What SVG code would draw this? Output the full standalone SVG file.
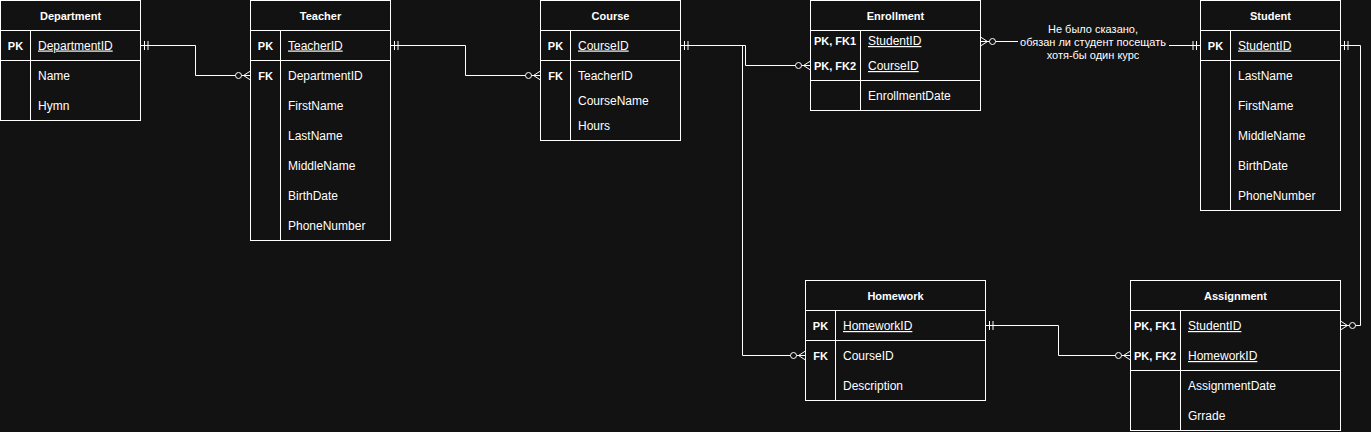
<svg xmlns="http://www.w3.org/2000/svg" width="1371" height="432" viewBox="0 0 1371 432">
<style>
.bg{fill:#121212}
.box{fill:#121212;stroke:#ffffff;stroke-width:1}
.ln{stroke:#ffffff;stroke-width:1;fill:none}
.t{font-family:"Liberation Sans",Arial,sans-serif;fill:#ffffff}
.h{font-size:11px;font-weight:bold;text-anchor:middle}
.k{font-size:11px;font-weight:bold;text-anchor:middle}
.f{font-size:12px}
.u{text-decoration:underline}
.lbl{font-size:11px;text-anchor:middle}
.con{stroke:#ffffff;stroke-width:1;fill:none}
.circ{stroke:#ffffff;stroke-width:1;fill:#121212}
</style>
<rect class="bg" x="0" y="0" width="1371" height="432"/>

<g id="Department">
<rect class="box" x="0.5" y="0.5" width="140" height="120"/>
<path class="ln" d="M0.5,30.5H140.5M0.5,60.5H140.5M30.5,30.5V120.5"/>
<text class="t h" x="70.5" y="20">Department</text>
<text class="t k" x="15.5" y="49.5">PK</text>
<text class="t f u" x="38" y="49.5">DepartmentID</text>
<text class="t f" x="38" y="79.5">Name</text>
<text class="t f" x="38" y="109.5">Hymn</text>
</g>

<g id="Teacher">
<rect class="box" x="250.5" y="0.5" width="140" height="240"/>
<path class="ln" d="M250.5,30.5H390.5M250.5,60.5H390.5M280.5,30.5V240.5"/>
<text class="t h" x="320.5" y="20">Teacher</text>
<text class="t k" x="265.5" y="49.5">PK</text>
<text class="t f u" x="288" y="49.5">TeacherID</text>
<text class="t k" x="265.5" y="79.5">FK</text>
<text class="t f" x="288" y="79.5">DepartmentID</text>
<text class="t f" x="288" y="109.5">FirstName</text>
<text class="t f" x="288" y="139.5">LastName</text>
<text class="t f" x="288" y="169.5">MiddleName</text>
<text class="t f" x="288" y="199.5">BirthDate</text>
<text class="t f" x="288" y="229.5">PhoneNumber</text>
</g>

<g id="Course">
<rect class="box" x="540.5" y="0.5" width="140" height="140"/>
<path class="ln" d="M540.5,30.5H680.5M540.5,60.5H680.5M570.5,30.5V140.5"/>
<text class="t h" x="610.5" y="20">Course</text>
<text class="t k" x="555.5" y="49.5">PK</text>
<text class="t f u" x="578" y="49.5">CourseID</text>
<text class="t k" x="555.5" y="79.5">FK</text>
<text class="t f" x="578" y="79.5">TeacherID</text>
<text class="t f" x="578" y="104.5">CourseName</text>
<text class="t f" x="578" y="129.5">Hours</text>
</g>

<g id="Enrollment">
<rect class="box" x="810.5" y="0.5" width="170" height="110"/>
<path class="ln" d="M810.5,30.5H980.5M810.5,80.5H980.5M860.5,30.5V110.5"/>
<text class="t h" x="895.5" y="20">Enrollment</text>
<text class="t k" x="835" y="45">PK, FK1</text>
<text class="t f u" x="868" y="45">StudentID</text>
<text class="t k" x="835" y="70">PK, FK2</text>
<text class="t f u" x="868" y="70">CourseID</text>
<text class="t f" x="868" y="100">EnrollmentDate</text>
</g>

<g id="Student">
<rect class="box" x="1200.5" y="0.5" width="140" height="210"/>
<path class="ln" d="M1200.5,30.5H1340.5M1200.5,60.5H1340.5M1230.5,30.5V210.5"/>
<text class="t h" x="1270.5" y="20">Student</text>
<text class="t k" x="1215.5" y="49.5">PK</text>
<text class="t f u" x="1238" y="49.5">StudentID</text>
<text class="t f" x="1238" y="80">LastName</text>
<text class="t f" x="1238" y="110">FirstName</text>
<text class="t f" x="1238" y="140">MiddleName</text>
<text class="t f" x="1238" y="170">BirthDate</text>
<text class="t f" x="1238" y="200">PhoneNumber</text>
</g>

<g id="Homework">
<rect class="box" x="805.5" y="280.5" width="180" height="120"/>
<path class="ln" d="M805.5,310.5H985.5M805.5,340.5H985.5M835.5,310.5V400.5"/>
<text class="t h" x="895.5" y="300">Homework</text>
<text class="t k" x="820.5" y="330">PK</text>
<text class="t f u" x="843" y="330">HomeworkID</text>
<text class="t k" x="820.5" y="360">FK</text>
<text class="t f" x="843" y="360">CourseID</text>
<text class="t f" x="843" y="390">Description</text>
</g>

<g id="Assignment">
<rect class="box" x="1130.5" y="280.5" width="210" height="150"/>
<path class="ln" d="M1130.5,310.5H1340.5M1130.5,370.5H1340.5M1180.5,310.5V430.5"/>
<text class="t h" x="1235.5" y="300">Assignment</text>
<text class="t k" x="1155" y="330">PK, FK1</text>
<text class="t f u" x="1188" y="330">StudentID</text>
<text class="t k" x="1155" y="360">PK, FK2</text>
<text class="t f u" x="1188" y="360">HomeworkID</text>
<text class="t f" x="1188" y="390">AssignmentDate</text>
<text class="t f" x="1188" y="420">Grrade</text>
</g>

<g id="connectors">
<!-- Department -> Teacher -->
<path class="con" d="M140.5,45.5H195.5V75.5H250.5"/>
<path class="con" d="M144.5,41V50M148,41V50"/>
<path class="con" d="M243.5,75.5L250.5,71M243.5,75.5L250.5,80"/>
<circle class="circ" cx="238.5" cy="75.5" r="3"/>
<!-- Teacher -> Course -->
<path class="con" d="M390.5,45.5H465.5V75.5H540.5"/>
<path class="con" d="M394.5,41V50M398,41V50"/>
<path class="con" d="M533.5,75.5L540.5,71M533.5,75.5L540.5,80"/>
<circle class="circ" cx="528.5" cy="75.5" r="3"/>
<!-- Course -> Enrollment -->
<path class="con" d="M680.5,45.5H745.5V65.5H810.5"/>
<path class="con" d="M684.5,41V50M688,41V50"/>
<path class="con" d="M803.5,65.5L810.5,61M803.5,65.5L810.5,70"/>
<circle class="circ" cx="798.5" cy="65.5" r="3"/>
<!-- Course -> Homework -->
<path class="con" d="M680.5,45.5H742.5V355.5H805.5"/>
<path class="con" d="M798.5,355.5L805.5,351M798.5,355.5L805.5,360"/>
<circle class="circ" cx="793.5" cy="355.5" r="3"/>
<!-- Enrollment -> Student -->
<path class="con" d="M980.5,41.5H1093V45.5H1200.5"/>
<path class="con" d="M987.5,41.5L980.5,37M987.5,41.5L980.5,46"/>
<circle class="circ" cx="992.5" cy="41.5" r="3"/>
<path class="con" d="M1193,41V50M1196.5,41V50"/>
<!-- Student -> Assignment -->
<path class="con" d="M1340.5,45.5H1360.5V325.5H1340.5"/>
<path class="con" d="M1344.5,41V50M1348,41V50"/>
<path class="con" d="M1347.5,325.5L1340.5,321M1347.5,325.5L1340.5,330"/>
<circle class="circ" cx="1352.5" cy="325.5" r="3"/>
<!-- Homework -> Assignment -->
<path class="con" d="M985.5,325.5H1058.5V355.5H1130.5"/>
<path class="con" d="M989.5,321V330M993,321V330"/>
<path class="con" d="M1123.5,355.5L1130.5,351M1123.5,355.5L1130.5,360"/>
<circle class="circ" cx="1118.5" cy="355.5" r="3"/>
<!-- label -->
<rect class="bg" x="1018" y="22" width="151" height="40"/>
<text class="t lbl" x="1093" y="33">Не было сказано,</text>
<text class="t lbl" x="1093" y="46">обязан ли студент посещать</text>
<text class="t lbl" x="1093" y="58.5">хотя-бы один курс</text>
</g>
</svg>
